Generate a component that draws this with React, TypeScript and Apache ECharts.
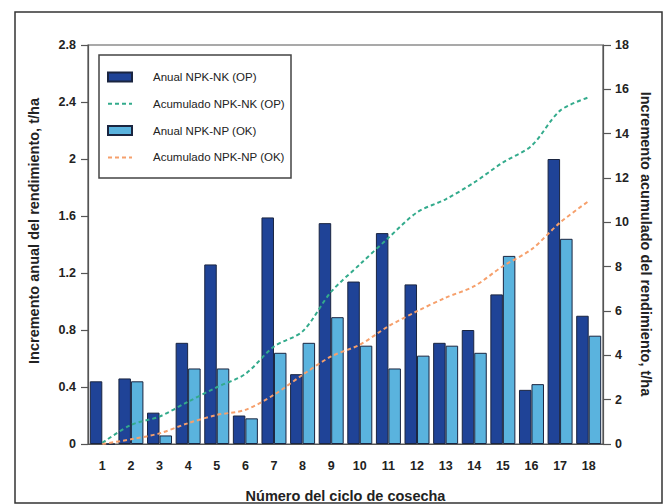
import React, { useEffect, useRef } from "react";
import * as echarts from "echarts";

const categories = ["1","2","3","4","5","6","7","8","9","10","11","12","13","14","15","16","17","18"];
const anualOP = [0.44, 0.46, 0.22, 0.71, 1.26, 0.2, 1.59, 0.49, 1.55, 1.14, 1.48, 1.12, 0.71, 0.8, 1.05, 0.38, 2.0, 0.9];
const anualOK = [0, 0.44, 0.06, 0.53, 0.53, 0.18, 0.64, 0.71, 0.89, 0.69, 0.53, 0.62, 0.69, 0.64, 1.32, 0.42, 1.44, 0.76];
const acumOP = [0.05, 0.86, 1.24, 1.91, 2.56, 3.16, 4.4, 5.08, 6.87, 8.1, 9.3, 10.45, 11.04, 11.8, 12.7, 13.45, 15.04, 15.64];
const acumOK = [0, 0.21, 0.48, 0.94, 1.31, 1.54, 2.22, 3.12, 3.95, 4.48, 5.31, 5.99, 6.6, 7.12, 8.02, 8.78, 9.99, 10.96];

const names = ["Anual NPK-NK (OP)", "Acumulado NPK-NK (OP)", "Anual NPK-NP (OK)", "Acumulado NPK-NP (OK)"];
const leftName = "Incremento anual del rendimiento, t/ha";
const rightName = "Incremento acumulado del rendimiento, t/ha";
const xName = "Número del ciclo de cosecha";

const FONT = "'Liberation Sans', Arial, sans-serif";
const AXIS = "#555";

export default function App() {
  const ref = useRef<HTMLDivElement>(null);
  useEffect(() => {
    if (!ref.current) return;
    const chart = echarts.init(ref.current, null, { renderer: "svg" });
    const noDot = () => ({ color: "transparent", borderWidth: 0, opacity: 0 });
    chart.setOption({
      animation: false,
      backgroundColor: "#ffffff",
      textStyle: { fontFamily: FONT },
      grid: {
        left: 88, right: 67, top: 45, bottom: 60,
        outerBoundsMode: "none",
        containLabel: false,
        show: true, borderColor: AXIS, borderWidth: 1.2, backgroundColor: "transparent",
      },
      legend: {
        orient: "vertical",
        left: 107,
        top: 70,
        padding: 0,
        itemWidth: 24,
        itemHeight: 9,
        itemGap: 12.8,
        textStyle: { fontSize: 11.5, color: "#222", fontFamily: FONT, lineHeight: 14, padding: [0, 0, 0, 16] },
        data: [
          { name: names[0], icon: "rect" },
          { name: names[1], itemStyle: noDot() },
          { name: names[2], icon: "rect" },
          { name: names[3], itemStyle: noDot() },
        ],
      },
      graphic: {
        elements: [
          { type: "rect", z: 10, shape: { x: 99, y: 55, width: 192, height: 123 }, style: { fill: "none", stroke: "#444", lineWidth: 1.5 }, silent: true },
          { type: "rect", z: 10, shape: { x: 15, y: 12, width: 647, height: 491 }, style: { fill: "none", stroke: "#333", lineWidth: 1.5 }, silent: true },
          { type: "text", z: 10, x: 34, y: 231, rotation: Math.PI / 2, style: { text: leftName, fill: "#222", font: `bold 14.5px ${FONT}`, textAlign: "center", textVerticalAlign: "middle" } },
          { type: "text", z: 10, x: 646, y: 244, rotation: -Math.PI / 2, style: { text: rightName, fill: "#222", font: `bold 14.5px ${FONT}`, textAlign: "center", textVerticalAlign: "middle" } },
        ],
      },
      xAxis: {
        type: "category",
        data: categories,
        name: xName,
        nameLocation: "middle",
        nameGap: 44,
        nameTextStyle: { fontSize: 14.5, fontWeight: "bold", color: "#222", fontFamily: FONT },
        axisLine: { lineStyle: { color: AXIS, width: 1.2 } },
        axisTick: { length: 7, lineStyle: { color: AXIS, width: 1.2 } },
        axisLabel: { fontSize: 12.5, fontWeight: "bold", color: "#222", margin: 15, fontFamily: FONT },
      },
      yAxis: [
        {
          type: "value",
          min: 0,
          max: 2.8,
          interval: 0.4,
          splitLine: { show: false },
          axisLine: { show: true, lineStyle: { color: AXIS, width: 1.2 } },
          axisTick: { show: true, length: 7, lineStyle: { color: AXIS, width: 1.2 } },
          axisLabel: { fontSize: 12.5, fontWeight: "bold", color: "#222", margin: 12, fontFamily: FONT, formatter: (v: number) => String(+v.toFixed(1)) },
        },
        {
          type: "value",
          min: 0,
          max: 18,
          interval: 2,
          position: "right",
          splitLine: { show: false },
          axisLine: { show: true, lineStyle: { color: AXIS, width: 1.2 } },
          axisTick: { show: true, length: 8, lineStyle: { color: AXIS, width: 1.2 } },
          axisLabel: { fontSize: 12.5, fontWeight: "bold", color: "#222", margin: 12, fontFamily: FONT },
        },
      ],
      series: [
        {
          name: names[0],
          type: "bar",
          data: anualOP,
          barWidth: 12.5,
          barGap: "0%",
          itemStyle: { color: "#1f4397", borderColor: "#1a2540", borderWidth: 1 },
        },
        {
          name: names[2],
          type: "bar",
          data: anualOK,
          barWidth: 12.5,
          barGap: "0%",
          itemStyle: { color: "#5ab3de", borderColor: "#1a2540", borderWidth: 1 },
        },
        {
          name: names[1],
          type: "line",
          yAxisIndex: 1,
          data: acumOP,
          symbol: "none",
          smooth: 0.3,
          lineStyle: { color: "#33ab8c", width: 2, type: [4, 3] },
          itemStyle: { color: "#33ab8c" },
          z: 5,
        },
        {
          name: names[3],
          type: "line",
          yAxisIndex: 1,
          data: acumOK,
          symbol: "none",
          smooth: 0.3,
          lineStyle: { color: "#f6a06c", width: 2, type: [4, 3] },
          itemStyle: { color: "#f6a06c" },
          z: 5,
        },
      ],
    });
    return () => chart.dispose();
  }, []);
  return <div ref={ref} style={{ position: "absolute", left: 0, top: 0, width: 670, height: 504 }} />;
}
